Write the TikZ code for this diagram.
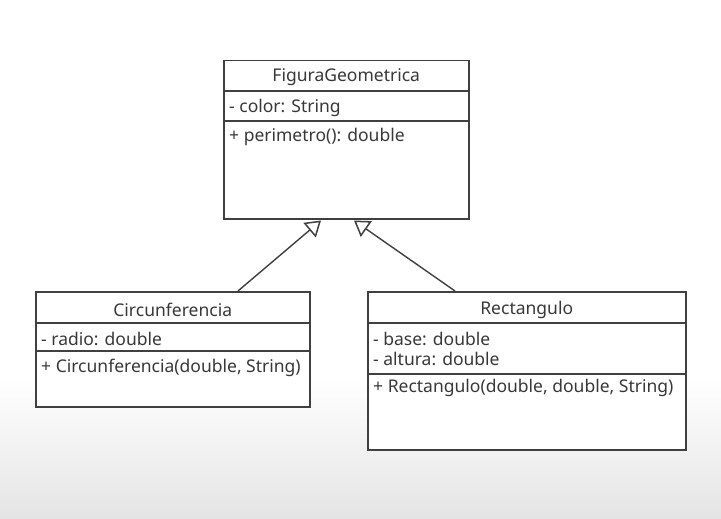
\documentclass[tikz,border=0pt]{standalone}
\usepackage{fontspec}
\setmainfont{Noto Sans}
\usetikzlibrary{arrows.meta,calc}
\definecolor{ink}{HTML}{383838}
\definecolor{edge}{HTML}{404040}
\definecolor{bgbot}{HTML}{E4E4E4}
\tikzset{
  classbox/.style={draw=edge, line width=1.5pt, fill=white, anchor=north west, inner sep=0pt},
  sepline/.style={draw=edge, line width=1.4pt},
  ttl/.style={font=\fontsize{17.5}{19}\selectfont, text=ink, anchor=center},
  mem/.style={font=\fontsize{17.5}{19}\selectfont, text=ink, anchor=west, inner sep=0pt},
  inh/.style={draw=edge, line width=1.4pt, -{Triangle[open, length=15pt, width=19pt, line width=1.5pt]}}
}
\begin{document}
\begin{tikzpicture}[x=1pt,y=-1pt]
\useasboundingbox (0,0) rectangle (721,519);
\fill[white] (0,0) rectangle (721,380);
\shade[top color=white, bottom color=bgbot] (0,379) rectangle (721,519);
% FiguraGeometrica
\node[classbox, minimum width=245pt, minimum height=158pt] (fg) at (223,60) {};
\draw[sepline] ($(fg.north west)+(0,31)$) -- ($(fg.north east)+(0,31)$);
\draw[sepline] ($(fg.north west)+(0,61)$) -- ($(fg.north east)+(0,61)$);
\node[ttl] (fgt) at ($(fg.north)+(0,17)$) {FiguraGeometrica};
\node[mem] (fga) at ($(fg.north west)+(6,48)$) {- color: String};
\node[mem] (fgm) at ($(fg.north west)+(6,77)$) {+ perimetro(): double};
% Circunferencia
\node[classbox, minimum width=274pt, minimum height=115pt] (ci) at (35,291) {};
\draw[sepline] ($(ci.north west)+(0,32)$) -- ($(ci.north east)+(0,32)$);
\draw[sepline] ($(ci.north west)+(0,60)$) -- ($(ci.north east)+(0,60)$);
\node[ttl] (cit) at ($(ci.north)+(0,19)$) {Circunferencia};
\node[mem] (cia) at ($(ci.north west)+(6,48)$) {- radio: double};
\node[mem] (cim) at ($(ci.north west)+(6,77)$) {+ Circunferencia(double, String)};
% Rectangulo
\node[classbox, minimum width=318pt, minimum height=158pt] (re) at (367,291) {};
\draw[sepline] ($(re.north west)+(0,32)$) -- ($(re.north east)+(0,32)$);
\draw[sepline] ($(re.north west)+(0,83)$) -- ($(re.north east)+(0,83)$);
\node[ttl] (ret) at ($(re.north)+(0,19)$) {Rectangulo};
\node[mem] (rea) at ($(re.north west)+(6,48)$) {- base: double};
\node[mem] (reb) at ($(re.north west)+(6,68)$) {- altura: double};
\node[mem] (rem) at ($(re.north west)+(6,97)$) {+ Rectangulo(double, double, String)};
% inheritance
\draw[inh] ($(ci.north west)+(203,0)$) -- ($(fg.south west)+(98,1)$);
\draw[inh] ($(re.north west)+(88,0)$) -- ($(fg.south west)+(131,1)$);
\end{tikzpicture}
\end{document}
